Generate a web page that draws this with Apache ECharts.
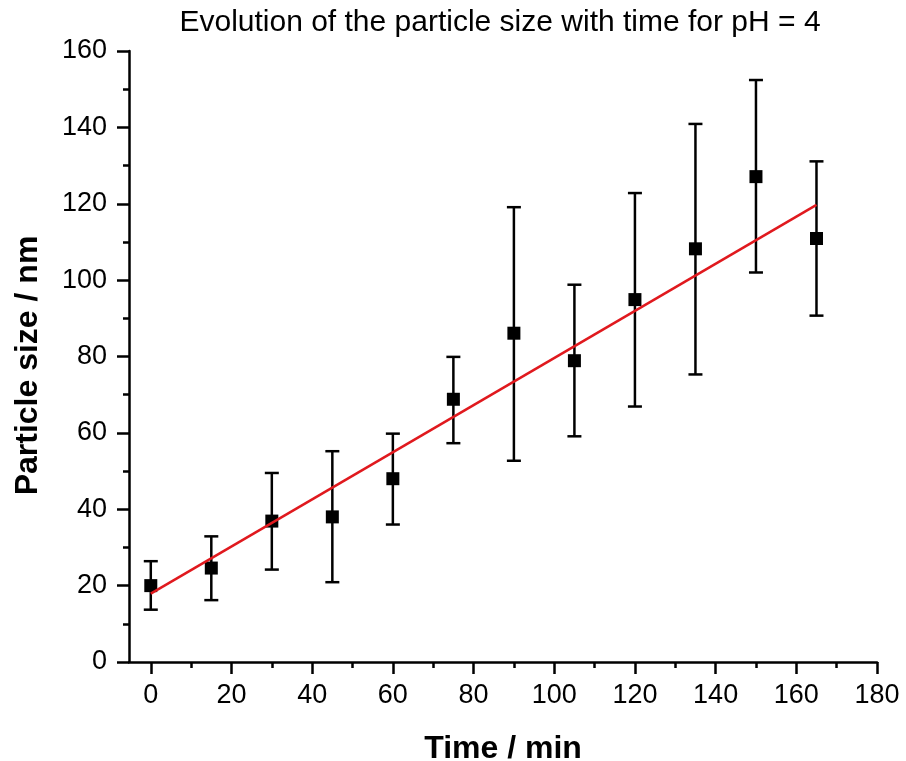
<!DOCTYPE html>
<html>
<head>
<meta charset="utf-8">
<script src="https://cdn.jsdelivr.net/npm/echarts@6/dist/echarts.min.js"></script>
<style>
html,body{margin:0;padding:0;background:#fff;}
#chart{width:906px;height:761px;}
</style>
</head>
<body>
<div id="chart"></div>
<script>
const times = [0, 15, 30, 45, 60, 75, 90, 105, 120, 135, 150, 165];
const sizes = [20.0, 24.6, 36.9, 38.0, 48.0, 68.8, 86.1, 78.9, 94.9, 108.2, 127.1, 110.9];
const errLow = [13.7, 16.2, 24.2, 20.9, 36.0, 57.3, 52.7, 59.1, 66.9, 75.3, 102.0, 90.7];
const errHigh = [26.4, 32.9, 49.5, 55.2, 59.8, 79.9, 119.1, 98.8, 122.8, 140.9, 152.4, 131.1];
const fitX = [0, 165];
const fitY = [17.9, 119.7];
const xMajorTicks = [0, 20, 40, 60, 80, 100, 120, 140, 160, 180];
const xMinorTicks = [10, 30, 50, 70, 90, 110, 130, 150, 170];

const FONT = '"Liberation Sans", Arial, sans-serif';
const chart = echarts.init(document.getElementById('chart'), null, {renderer: 'canvas'});

const errData = times.map((t, i) => [t, errLow[i], errHigh[i]]);
const ptData = times.map((t, i) => [t, sizes[i]]);
const fitData = fitX.map((x, i) => [x, fitY[i]]);

chart.setOption({
  animation: false,
  backgroundColor: '#fff',
  title: {
    text: 'Evolution of the particle size with time for pH = 4',
    left: 495,
    textAlign: 'center',
    top: 3,
    textStyle: {fontFamily: FONT, fontSize: 30, fontWeight: 'normal', color: '#000'}
  },
  grid: {left: 129, right: 29, top: 51, bottom: 99, containLabel: false, outerBoundsMode: 'none'},
  xAxis: [{
    type: 'value',
    min: -5.4,
    max: 180,
    name: 'Time / min',
    nameLocation: 'middle',
    nameGap: 71,
    nameTextStyle: {fontFamily: FONT, fontSize: 32, fontWeight: 'bold', color: '#000'},
    axisLine: {show: true, onZero: false, lineStyle: {color: '#000', width: 2.5}},
    axisTick: {show: true, inside: false, length: 12, customValues: xMajorTicks, lineStyle: {color: '#000', width: 2.5}},
    axisLabel: {customValues: xMajorTicks, margin: 20, fontFamily: FONT, fontSize: 27, color: '#000'},
    splitLine: {show: false}
  }, {
    type: 'value',
    position: 'bottom',
    min: -5.4,
    max: 180,
    axisLine: {show: false, onZero: false},
    axisTick: {show: true, inside: false, length: 6, customValues: xMinorTicks, lineStyle: {color: '#000', width: 2.5}},
    axisLabel: {show: false},
    splitLine: {show: false}
  }],
  yAxis: {
    type: 'value',
    min: 0,
    max: 160,
    interval: 20,
    name: 'Particle size / nm',
    nameLocation: 'middle',
    nameGap: 85,
    nameTextStyle: {fontFamily: FONT, fontSize: 32, fontWeight: 'bold', color: '#000', padding: [0, 18, 0, 0]},
    axisLine: {show: true, onZero: false, lineStyle: {color: '#000', width: 2.5}},
    axisTick: {show: true, inside: false, length: 12, lineStyle: {color: '#000', width: 2.5}},
    minorTick: {show: true, splitNumber: 2, length: 6, lineStyle: {color: '#000', width: 2.5}},
    axisLabel: {margin: 22, fontFamily: FONT, fontSize: 27, color: '#000'},
    splitLine: {show: false}
  },
  series: [{
    type: 'custom',
    xAxisIndex: 0,
    data: errData,
    z: 2,
    renderItem: function (params, api) {
      const x = api.value(0);
      const lo = api.coord([x, api.value(1)]);
      const hi = api.coord([x, api.value(2)]);
      const w = 7;
      const style = {stroke: '#000', lineWidth: 2.5};
      return {
        type: 'group',
        children: [
          {type: 'line', shape: {x1: lo[0], y1: lo[1], x2: hi[0], y2: hi[1]}, style: style},
          {type: 'line', shape: {x1: lo[0] - w, y1: lo[1], x2: lo[0] + w, y2: lo[1]}, style: style},
          {type: 'line', shape: {x1: hi[0] - w, y1: hi[1], x2: hi[0] + w, y2: hi[1]}, style: style}
        ]
      };
    }
  }, {
    type: 'scatter',
    xAxisIndex: 0,
    data: ptData,
    symbol: 'rect',
    symbolSize: 13,
    itemStyle: {color: '#000', opacity: 1},
    z: 3
  }, {
    type: 'line',
    xAxisIndex: 0,
    data: fitData,
    showSymbol: false,
    symbol: 'none',
    lineStyle: {color: '#e0191e', width: 2.5},
    z: 4
  }]
});
</script>
</body>
</html>
